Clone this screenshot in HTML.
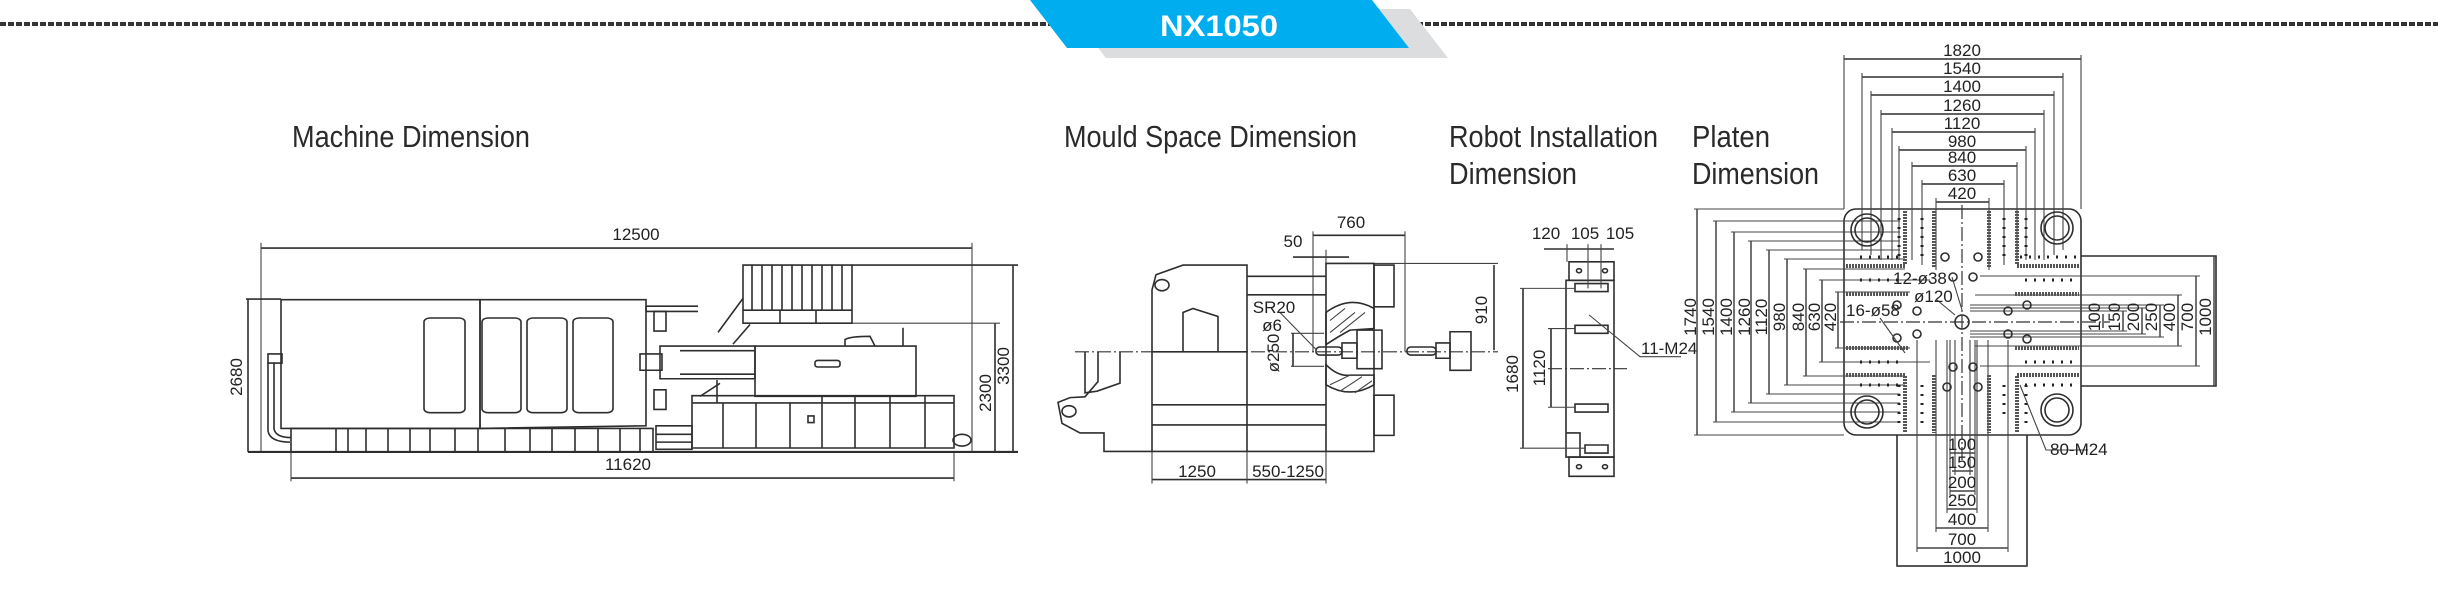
<!DOCTYPE html>
<html><head><meta charset="utf-8"><style>
html,body{margin:0;padding:0;background:#fff;width:2438px;height:590px;overflow:hidden;}
svg{display:block;}
text{font-family:"Liberation Sans",sans-serif;fill:#222;}
.ti{font-size:31px;fill:#2a2a2a;}
.d{font-size:17px;}
.l,.l *{vector-effect:non-scaling-stroke;}
.l{fill:none;stroke:#2e2e2e;stroke-width:1.6;}
.th{fill:none;stroke:#444;stroke-width:1.1;vector-effect:non-scaling-stroke;}
.dd{fill:none;stroke:#333;stroke-width:1.2;stroke-dasharray:14 3 2 3;vector-effect:non-scaling-stroke;}
.hs{fill:none;stroke:#555;stroke-width:4;stroke-dasharray:2 1;}
.dots{fill:none;stroke:#222;stroke-width:3;stroke-dasharray:2 7;}
</style></head><body>
<svg width="2438" height="590" viewBox="0 0 2438 590" xmlns="http://www.w3.org/2000/svg">
<line x1="0" y1="24" x2="1050" y2="24" stroke="#333" stroke-width="4" stroke-dasharray="6 2"/>
<line x1="1385" y1="24" x2="2438" y2="24" stroke="#333" stroke-width="4" stroke-dasharray="6 2"/>
<polygon points="1068,9 1410,9 1448,58 1106,58" fill="#dcdddf"/>
<polygon points="1030,0 1372,0 1409,48 1067,48" fill="#00aeef"/>
<text x="1219" y="36" text-anchor="middle" style="font-size:30px;font-weight:bold;fill:#fff" textLength="118" lengthAdjust="spacingAndGlyphs">NX1050</text>

<text class="ti" x="292" y="147" textLength="238" lengthAdjust="spacingAndGlyphs">Machine Dimension</text>
<text class="ti" x="1064" y="147" textLength="293" lengthAdjust="spacingAndGlyphs">Mould Space Dimension</text>
<text class="ti" x="1449" y="147" textLength="209" lengthAdjust="spacingAndGlyphs">Robot Installation</text>
<text class="ti" x="1449" y="184" textLength="128" lengthAdjust="spacingAndGlyphs">Dimension</text>
<text class="ti" x="1692" y="147" textLength="78" lengthAdjust="spacingAndGlyphs">Platen</text>
<text class="ti" x="1692" y="184" textLength="127" lengthAdjust="spacingAndGlyphs">Dimension</text>

<!-- Machine -->
<g class="l" transform="matrix(1,0,0,0.6533,0,76.27)">
<line x1="261" y1="263" x2="972" y2="263"/>
<line x1="261" y1="255" x2="261" y2="575" class="th"/>
<line x1="972" y1="255" x2="972" y2="575" class="th"/>
<line x1="291" y1="615" x2="954" y2="615"/>
<line x1="291" y1="575" x2="291" y2="620" class="th"/>
<line x1="954" y1="575" x2="954" y2="620" class="th"/>
<line x1="248" y1="575" x2="1018" y2="575" stroke-width="2.2"/>
<line x1="248" y1="341" x2="248" y2="575"/>
<line x1="246" y1="341" x2="281" y2="341"/>
<line x1="1013" y1="289" x2="1013" y2="575"/>
<line x1="852" y1="289" x2="1018" y2="289"/>
<line x1="995" y1="378" x2="995" y2="575"/>
<line x1="852" y1="378" x2="1000" y2="378" class="th"/>
<rect x="281" y="342" width="199" height="197"/>
<polygon points="480,342 646,342 646,535 480,539"/>
<line x1="646" y1="352" x2="698" y2="352"/>
<line x1="646" y1="352" x2="646" y2="360"/>
<line x1="646" y1="360" x2="698" y2="360"/>
<rect x="424" y="370" width="41" height="145" rx="6"/>
<rect x="482" y="370" width="39" height="145" rx="6"/>
<rect x="527" y="370" width="40" height="145" rx="6"/>
<rect x="573" y="370" width="40" height="145" rx="6"/>
<rect x="654" y="360" width="12" height="30"/>
<rect x="654" y="480" width="12" height="30"/>
<path d="M268 438 L268 543 Q270 560 290 560"/>
<path d="M274 438 L274 540 Q276 553 291 553"/>
<rect x="268" y="425" width="14" height="14"/>
<rect x="291" y="539" width="362" height="36"/>
<line x1="336" y1="539" x2="336" y2="575"/><line x1="348" y1="539" x2="348" y2="575"/>
<line x1="366" y1="539" x2="366" y2="575"/><line x1="388" y1="539" x2="388" y2="575"/>
<line x1="410" y1="539" x2="410" y2="575"/><line x1="430" y1="539" x2="430" y2="575"/>
<line x1="455" y1="539" x2="455" y2="575"/><line x1="478" y1="539" x2="478" y2="575"/>
<line x1="505" y1="539" x2="505" y2="575"/><line x1="530" y1="539" x2="530" y2="575"/>
<line x1="552" y1="539" x2="552" y2="575"/><line x1="575" y1="539" x2="575" y2="575"/>
<line x1="598" y1="539" x2="598" y2="575"/><line x1="620" y1="539" x2="620" y2="575"/>
<line x1="640" y1="539" x2="640" y2="575"/>
<rect x="743" y="289" width="109" height="89"/>
<line x1="743" y1="358" x2="852" y2="358"/>
<line x1="780" y1="358" x2="780" y2="378"/><line x1="816" y1="358" x2="816" y2="378"/>
<line x1="752" y1="289" x2="752" y2="358"/><line x1="762" y1="289" x2="762" y2="358"/>
<line x1="772" y1="289" x2="772" y2="358"/><line x1="782" y1="289" x2="782" y2="358"/>
<line x1="792" y1="289" x2="792" y2="358"/><line x1="802" y1="289" x2="802" y2="358"/>
<line x1="812" y1="289" x2="812" y2="358"/><line x1="822" y1="289" x2="822" y2="358"/>
<line x1="832" y1="289" x2="832" y2="358"/><line x1="842" y1="289" x2="842" y2="358"/>
<line x1="743" y1="340" x2="718" y2="392"/><line x1="750" y1="380" x2="733" y2="410"/>
<rect x="660" y="413" width="95" height="50"/>
<rect x="640" y="425" width="22" height="25"/>
<line x1="680" y1="420" x2="755" y2="420"/><line x1="680" y1="456" x2="755" y2="456"/>
<rect x="755" y="413" width="161" height="77"/>
<rect x="815" y="435" width="25" height="10" rx="3"/>
<path d="M845 413 L845 403 Q850 398 870 398 L875 413"/>
<line x1="903" y1="385" x2="903" y2="413"/>
<line x1="717" y1="465" x2="717" y2="500"/>
<line x1="720" y1="470" x2="700" y2="490"/>
<rect x="692" y="489" width="262" height="80"/>
<line x1="692" y1="500" x2="954" y2="500"/>
<line x1="723" y1="500" x2="723" y2="569"/><line x1="756" y1="500" x2="756" y2="569"/>
<line x1="790" y1="500" x2="790" y2="569"/><line x1="822" y1="489" x2="822" y2="569"/>
<line x1="855" y1="489" x2="855" y2="569"/><line x1="890" y1="489" x2="890" y2="569"/>
<line x1="925" y1="489" x2="925" y2="569"/>
<rect x="808" y="520" width="6" height="10"/>
<circle cx="962" cy="557" r="9"/>
<rect x="656" y="535" width="36" height="36"/>
<line x1="656" y1="548" x2="692" y2="548"/><line x1="656" y1="560" x2="692" y2="560"/>
</g>
<text class="d" x="636" y="240" text-anchor="middle">12500</text>
<text class="d" x="628" y="470" text-anchor="middle">11620</text>
<text class="d" transform="translate(242,377) rotate(-90)" text-anchor="middle">2680</text>
<text class="d" transform="translate(1009,366) rotate(-90)" text-anchor="middle">3300</text>
<text class="d" transform="translate(991,393) rotate(-90)" text-anchor="middle">2300</text>

<!-- Mould space + Robot (shapes) -->
<g class="l" transform="matrix(1,0,0,0.8033,0,39.34)">
<line x1="1075" y1="389" x2="1498" y2="389" class="dd"/>
<line x1="1313" y1="244" x2="1405" y2="244"/>
<line x1="1313" y1="239" x2="1313" y2="389" class="th"/>
<line x1="1405" y1="239" x2="1405" y2="389" class="th"/>
<line x1="1293" y1="271" x2="1349" y2="271"/>
<line x1="1326" y1="262" x2="1326" y2="279" class="th"/>
<line x1="1326" y1="279" x2="1498" y2="279" class="th"/>
<line x1="1494" y1="281" x2="1494" y2="387"/>
<rect x="1326" y="279" width="48" height="234"/>
<rect x="1374" y="281" width="20" height="52"/>
<rect x="1374" y="443" width="20" height="50"/>
<path d="M1326 340 Q1350 318 1374 335 L1374 360 L1350 362 Q1338 370 1326 380 Z"/>
<path d="M1326 405 Q1338 420 1350 418 L1374 418 L1374 430 Q1350 448 1326 430 Z"/>
<rect x="1357" y="362" width="25" height="48"/>
<rect x="1342" y="378" width="15" height="19"/>
<rect x="1316" y="383" width="26" height="10" rx="4"/>
<rect x="1450" y="364" width="21" height="48"/>
<rect x="1436" y="378" width="14" height="19"/>
<rect x="1407" y="383" width="29" height="10" rx="4"/>
<polygon points="1152,312 1156,293 1183,281 1247,281 1247,389 1152,389"/>
<circle cx="1162" cy="306" r="7"/>
<polyline points="1183,389 1183,340 1193,335 1218,345 1218,389"/>
<line x1="1247" y1="295" x2="1326" y2="295"/>
<line x1="1247" y1="318" x2="1326" y2="318"/>
<polyline points="1152,389 1152,513 1104,513 1104,490 1080,490 1062,478 1058,452 1070,446 1085,445 1098,426 1098,389"/>
<circle cx="1069" cy="463" r="7"/>
<polyline points="1085,389 1085,440 1097,438 1120,428 1120,389"/>
<line x1="1247" y1="389" x2="1247" y2="513"/>
<line x1="1152" y1="513" x2="1326" y2="513"/>
<line x1="1152" y1="455" x2="1326" y2="455"/>
<line x1="1152" y1="480" x2="1326" y2="480"/>
<line x1="1152" y1="548" x2="1326" y2="548"/>
<line x1="1152" y1="513" x2="1152" y2="553" class="th"/>
<line x1="1247" y1="513" x2="1247" y2="553" class="th"/>
<line x1="1326" y1="513" x2="1326" y2="553" class="th"/>
<line x1="1291" y1="366" x2="1324" y2="366" class="th"/>
<line x1="1291" y1="407" x2="1324" y2="407" class="th"/>
<line x1="1293" y1="366" x2="1293" y2="407"/>
<line x1="1280" y1="340" x2="1316" y2="386" class="th"/>
<line x1="1330" y1="350" x2="1345" y2="335" class="th"/><line x1="1330" y1="365" x2="1355" y2="340" class="th"/>
<line x1="1340" y1="365" x2="1365" y2="340" class="th"/><line x1="1330" y1="430" x2="1350" y2="418" class="th"/>
<line x1="1340" y1="438" x2="1362" y2="420" class="th"/><line x1="1355" y1="440" x2="1372" y2="425" class="th"/>
<!-- Robot -->
<rect x="1566" y="300" width="48" height="220"/>
<rect x="1569" y="277" width="45" height="23"/>
<rect x="1569" y="520" width="45" height="24"/>
<circle cx="1579" cy="288" r="2.5"/><circle cx="1605" cy="288" r="2.5"/>
<circle cx="1579" cy="532" r="2.5"/><circle cx="1605" cy="532" r="2.5"/>
<rect x="1575" y="304" width="33" height="10"/>
<rect x="1575" y="356" width="33" height="10"/>
<rect x="1575" y="454" width="33" height="10"/>
<rect x="1585" y="505" width="23" height="10"/>
<polyline points="1566,490 1580,490 1580,520"/>
<line x1="1544" y1="261" x2="1614" y2="261"/>
<line x1="1567" y1="255" x2="1567" y2="277" class="th"/>
<line x1="1588" y1="255" x2="1588" y2="310" class="th"/>
<line x1="1601" y1="255" x2="1601" y2="310" class="th"/>
<line x1="1523" y1="310" x2="1523" y2="509"/>
<line x1="1520" y1="310" x2="1575" y2="310" class="th"/>
<line x1="1520" y1="509" x2="1585" y2="509" class="th"/>
<line x1="1551" y1="360" x2="1551" y2="458"/>
<line x1="1548" y1="360" x2="1575" y2="360" class="th"/>
<line x1="1548" y1="458" x2="1575" y2="458" class="th"/>
<line x1="1548" y1="410" x2="1627" y2="410" class="dd"/>
<polyline points="1589,343 1640,395 1681,395" class="th"/>
</g>
<text class="d" x="1351" y="228" text-anchor="middle">760</text>
<text class="d" x="1293" y="247" text-anchor="middle">50</text>
<text class="d" x="1274" y="313" text-anchor="middle">SR20</text>
<text class="d" x="1272" y="331" text-anchor="middle">ø6</text>
<text class="d" transform="translate(1279,353) rotate(-90)" text-anchor="middle">ø250</text>
<text class="d" transform="translate(1487,310) rotate(-90)" text-anchor="middle">910</text>
<text class="d" x="1197" y="477" text-anchor="middle">1250</text>
<text class="d" x="1288" y="477" text-anchor="middle">550-1250</text>
<text class="d" x="1546" y="239" text-anchor="middle">120</text>
<text class="d" x="1585" y="239" text-anchor="middle">105</text>
<text class="d" x="1620" y="239" text-anchor="middle">105</text>
<text class="d" transform="translate(1518,374) rotate(-90)" text-anchor="middle">1680</text>
<text class="d" transform="translate(1545,368) rotate(-90)" text-anchor="middle">1120</text>
<text class="d" x="1641" y="354">11-M24</text>

<!-- Platen -->
<g class="l">
<rect x="1844" y="209" width="237" height="226" rx="12"/>
<polyline points="2081,256 2216,256 2216,386 2081,386"/>
<polyline points="1897,435 1897,566 2027,566 2027,435"/>
<line x1="1844" y1="59" x2="2081" y2="59"/>
<line x1="1862" y1="77" x2="2063" y2="77"/>
<line x1="1871" y1="95" x2="2054" y2="95"/>
<line x1="1881" y1="114" x2="2044" y2="114"/>
<line x1="1892" y1="132" x2="2035" y2="132"/>
<line x1="1899" y1="150" x2="2026" y2="150"/>
<line x1="1912" y1="166" x2="2017" y2="166"/>
<line x1="1922" y1="184" x2="2004" y2="184"/>
<line x1="1936" y1="202" x2="1989" y2="202"/>
</g>
<g class="th">
<line x1="1844" y1="55" x2="1844" y2="209"/><line x1="2081" y1="55" x2="2081" y2="209"/>
<line x1="1862" y1="73" x2="1862" y2="250"/><line x1="2063" y1="73" x2="2063" y2="250"/>
<line x1="1871" y1="91" x2="1871" y2="255"/><line x1="2054" y1="91" x2="2054" y2="255"/>
<line x1="1881" y1="110" x2="1881" y2="260"/><line x1="2044" y1="110" x2="2044" y2="260"/>
<line x1="1892" y1="128" x2="1892" y2="260"/><line x1="2035" y1="128" x2="2035" y2="260"/>
<line x1="1899" y1="146" x2="1899" y2="260"/><line x1="2026" y1="146" x2="2026" y2="260"/>
<line x1="1912" y1="162" x2="1912" y2="260"/><line x1="2017" y1="162" x2="2017" y2="260"/>
<line x1="1922" y1="180" x2="1922" y2="265"/><line x1="2004" y1="180" x2="2004" y2="265"/>
<line x1="1936" y1="198" x2="1936" y2="270"/><line x1="1989" y1="198" x2="1989" y2="270"/>
<line x1="1697" y1="209" x2="1697" y2="435" stroke-width="1.5"/>
<line x1="1716" y1="221" x2="1716" y2="422" stroke-width="1.5"/>
<line x1="1734" y1="232" x2="1734" y2="412" stroke-width="1.5"/>
<line x1="1751" y1="241" x2="1751" y2="403" stroke-width="1.5"/>
<line x1="1769" y1="250" x2="1769" y2="394" stroke-width="1.5"/>
<line x1="1787" y1="259" x2="1787" y2="385" stroke-width="1.5"/>
<line x1="1806" y1="269" x2="1806" y2="376" stroke-width="1.5"/>
<line x1="1822" y1="280" x2="1822" y2="362" stroke-width="1.5"/>
<line x1="1838" y1="292" x2="1838" y2="348" stroke-width="1.5"/>
<line x1="1694" y1="209" x2="1844" y2="209"/><line x1="1694" y1="435" x2="1844" y2="435"/>
<line x1="1713" y1="221" x2="1900" y2="221"/><line x1="1713" y1="422" x2="1900" y2="422"/>
<line x1="1731" y1="232" x2="1900" y2="232"/><line x1="1731" y1="412" x2="1900" y2="412"/>
<line x1="1748" y1="241" x2="1900" y2="241"/><line x1="1748" y1="403" x2="1900" y2="403"/>
<line x1="1766" y1="250" x2="1900" y2="250"/><line x1="1766" y1="394" x2="1900" y2="394"/>
<line x1="1784" y1="259" x2="1905" y2="259"/><line x1="1784" y1="385" x2="1905" y2="385"/>
<line x1="1803" y1="269" x2="1905" y2="269"/><line x1="1803" y1="376" x2="1905" y2="376"/>
<line x1="1819" y1="280" x2="1930" y2="280"/><line x1="1819" y1="362" x2="1930" y2="362"/>
<line x1="1835" y1="292" x2="1910" y2="292"/><line x1="1835" y1="348" x2="1910" y2="348"/>
<line x1="2214" y1="256" x2="2214" y2="386" stroke-width="1.5"/>
<line x1="2196" y1="276" x2="2196" y2="366" stroke-width="1.5"/>
<line x1="2178" y1="295" x2="2178" y2="346" stroke-width="1.5"/>
<line x1="2160" y1="305" x2="2160" y2="337" stroke-width="1.5"/>
<line x1="2142" y1="308" x2="2142" y2="334" stroke-width="1.5"/>
<line x1="2123" y1="311" x2="2123" y2="331" stroke-width="1.5"/>
<line x1="2103" y1="314" x2="2103" y2="328" stroke-width="1.5"/>
<line x1="1980" y1="276" x2="2200" y2="276"/><line x1="1980" y1="366" x2="2200" y2="366"/>
<line x1="1975" y1="295" x2="2182" y2="295"/><line x1="1975" y1="346" x2="2182" y2="346"/>
<line x1="1970" y1="305" x2="2164" y2="305"/><line x1="1970" y1="337" x2="2164" y2="337"/>
<line x1="1970" y1="308" x2="2146" y2="308"/><line x1="1970" y1="334" x2="2146" y2="334"/>
<line x1="1970" y1="311" x2="2127" y2="311"/><line x1="1970" y1="331" x2="2127" y2="331"/>
<line x1="1950" y1="453" x2="1975" y2="453" stroke-width="1.5"/>
<line x1="1952" y1="471" x2="1973" y2="471" stroke-width="1.5"/>
<line x1="1950" y1="491" x2="1975" y2="491" stroke-width="1.5"/>
<line x1="1947" y1="509" x2="1977" y2="509" stroke-width="1.5"/>
<line x1="1936" y1="528" x2="1988" y2="528" stroke-width="1.5"/>
<line x1="1917" y1="548" x2="2008" y2="548" stroke-width="1.5"/>
<line x1="1897" y1="566" x2="2027" y2="566" stroke-width="1.5"/>
<line x1="1917" y1="340" x2="1917" y2="552"/><line x1="2008" y1="340" x2="2008" y2="552"/>
<line x1="1936" y1="340" x2="1936" y2="532"/><line x1="1988" y1="340" x2="1988" y2="532"/>
<line x1="1947" y1="340" x2="1947" y2="513"/><line x1="1977" y1="340" x2="1977" y2="513"/>
<line x1="1950" y1="340" x2="1950" y2="495"/><line x1="1975" y1="340" x2="1975" y2="495"/>
<line x1="1955" y1="340" x2="1955" y2="475"/><line x1="1970" y1="340" x2="1970" y2="475"/>
</g>
<line x1="1962" y1="205" x2="1962" y2="460" class="dd"/>
<line x1="1840" y1="322" x2="2110" y2="322" class="dd"/>
<g class="hs">
<line x1="1905" y1="211" x2="1905" y2="264"/><line x1="2017" y1="211" x2="2017" y2="264"/>
<line x1="1934" y1="211" x2="1934" y2="267"/><line x1="1989" y1="211" x2="1989" y2="267"/>
<line x1="1905" y1="376" x2="1905" y2="433"/><line x1="2017" y1="376" x2="2017" y2="433"/>
<line x1="1934" y1="375" x2="1934" y2="433"/><line x1="1989" y1="375" x2="1989" y2="433"/>
<line x1="1846" y1="266" x2="1905" y2="266"/><line x1="2017" y1="266" x2="2079" y2="266"/>
<line x1="1846" y1="294" x2="1909" y2="294"/><line x1="2015" y1="294" x2="2079" y2="294"/>
<line x1="1846" y1="348" x2="1909" y2="348"/><line x1="2015" y1="348" x2="2079" y2="348"/>
<line x1="1846" y1="375" x2="1905" y2="375"/><line x1="2017" y1="375" x2="2079" y2="375"/>
</g>
<g class="dots">
<line x1="1860" y1="257" x2="1905" y2="257"/><line x1="2020" y1="257" x2="2078" y2="257"/>
<line x1="1860" y1="280" x2="1905" y2="280"/><line x1="2025" y1="280" x2="2078" y2="280"/>
<line x1="1860" y1="362" x2="1905" y2="362"/><line x1="2025" y1="362" x2="2078" y2="362"/>
<line x1="1860" y1="385" x2="1905" y2="385"/><line x1="2025" y1="385" x2="2078" y2="385"/>
<line x1="1899" y1="218" x2="1899" y2="260"/><line x1="1922" y1="218" x2="1922" y2="260"/>
<line x1="2004" y1="218" x2="2004" y2="260"/><line x1="2026" y1="218" x2="2026" y2="260"/>
<line x1="1899" y1="385" x2="1899" y2="425"/><line x1="1922" y1="385" x2="1922" y2="425"/>
<line x1="2004" y1="385" x2="2004" y2="420"/><line x1="2026" y1="385" x2="2026" y2="425"/>
</g>
<g class="l">
<circle cx="1867" cy="230" r="16"/><circle cx="1867" cy="230" r="12"/>
<circle cx="2057" cy="228" r="16"/><circle cx="2057" cy="228" r="12"/>
<circle cx="1867" cy="412" r="16"/><circle cx="1867" cy="412" r="12"/>
<circle cx="2057" cy="410" r="16"/><circle cx="2057" cy="410" r="12"/>
<circle cx="1962" cy="322" r="7"/>
<circle cx="1945" cy="257" r="4"/><circle cx="1978" cy="257" r="4"/>
<circle cx="1953" cy="277" r="4"/><circle cx="1973" cy="277" r="4"/>
<circle cx="1917" cy="311" r="4"/><circle cx="1917" cy="334" r="4"/>
<circle cx="2008" cy="311" r="4"/><circle cx="2008" cy="334" r="4"/>
<circle cx="2027" cy="305" r="4"/><circle cx="2027" cy="339" r="4"/>
<circle cx="1897" cy="305" r="4"/><circle cx="1897" cy="338" r="4"/>
<circle cx="1953" cy="367" r="4"/><circle cx="1973" cy="367" r="4"/>
<circle cx="1947" cy="387" r="4"/><circle cx="1978" cy="387" r="4"/>
<polyline points="1952,277 1962,310" class="th"/>
<polyline points="1937,300 1955,315" class="th"/>
<polyline points="1880,318 1905,353" class="th"/>
<polyline points="2020,385 2046,450 2088,450" class="th"/>
</g>
<text class="d" x="1962" y="56" text-anchor="middle">1820</text>
<text class="d" x="1962" y="74" text-anchor="middle">1540</text>
<text class="d" x="1962" y="92" text-anchor="middle">1400</text>
<text class="d" x="1962" y="111" text-anchor="middle">1260</text>
<text class="d" x="1962" y="129" text-anchor="middle">1120</text>
<text class="d" x="1962" y="147" text-anchor="middle">980</text>
<text class="d" x="1962" y="163" text-anchor="middle">840</text>
<text class="d" x="1962" y="181" text-anchor="middle">630</text>
<text class="d" x="1962" y="199" text-anchor="middle">420</text>
<text class="d" transform="translate(1696,317) rotate(-90)" text-anchor="middle">1740</text>
<text class="d" transform="translate(1714,317) rotate(-90)" text-anchor="middle">1540</text>
<text class="d" transform="translate(1732,317) rotate(-90)" text-anchor="middle">1400</text>
<text class="d" transform="translate(1750,317) rotate(-90)" text-anchor="middle">1260</text>
<text class="d" transform="translate(1767,317) rotate(-90)" text-anchor="middle">1120</text>
<text class="d" transform="translate(1785,317) rotate(-90)" text-anchor="middle">980</text>
<text class="d" transform="translate(1804,317) rotate(-90)" text-anchor="middle">840</text>
<text class="d" transform="translate(1820,317) rotate(-90)" text-anchor="middle">630</text>
<text class="d" transform="translate(1836,317) rotate(-90)" text-anchor="middle">420</text>
<text class="d" transform="translate(2211,317) rotate(-90)" text-anchor="middle">1000</text>
<text class="d" transform="translate(2193,317) rotate(-90)" text-anchor="middle">700</text>
<text class="d" transform="translate(2175,317) rotate(-90)" text-anchor="middle">400</text>
<text class="d" transform="translate(2157,317) rotate(-90)" text-anchor="middle">250</text>
<text class="d" transform="translate(2139,317) rotate(-90)" text-anchor="middle">200</text>
<text class="d" transform="translate(2120,317) rotate(-90)" text-anchor="middle">150</text>
<text class="d" transform="translate(2100,317) rotate(-90)" text-anchor="middle">100</text>
<text class="d" x="1962" y="450" text-anchor="middle">100</text>
<text class="d" x="1962" y="468" text-anchor="middle">150</text>
<text class="d" x="1962" y="488" text-anchor="middle">200</text>
<text class="d" x="1962" y="506" text-anchor="middle">250</text>
<text class="d" x="1962" y="525" text-anchor="middle">400</text>
<text class="d" x="1962" y="545" text-anchor="middle">700</text>
<text class="d" x="1962" y="563" text-anchor="middle">1000</text>
<text class="d" x="1893" y="284">12-ø38</text>
<text class="d" x="1914" y="302">ø120</text>
<text class="d" x="1846" y="316">16-ø58</text>
<text class="d" x="2050" y="455">80-M24</text>
</svg>
</body></html>
